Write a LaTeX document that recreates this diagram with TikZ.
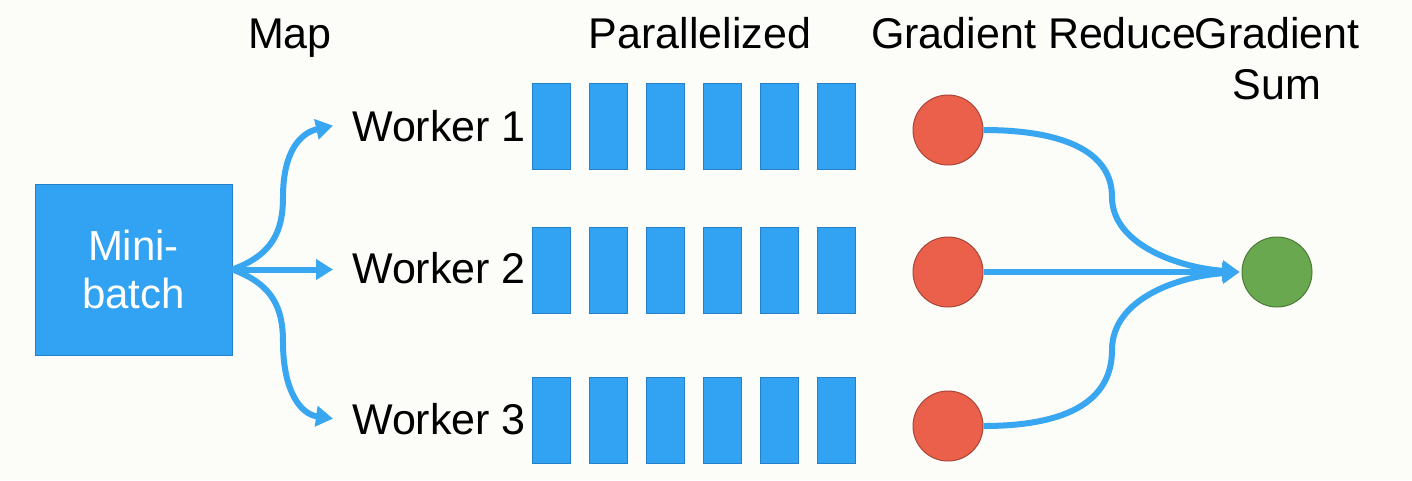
\documentclass[tikz,border=0pt]{standalone}
\usepackage{fontspec}
\setmainfont{Liberation Sans}
\usetikzlibrary{arrows.meta}
\definecolor{bg}{RGB}{252,252,249}
\definecolor{bblue}{RGB}{50,162,242}
\definecolor{bedge}{RGB}{38,128,200}
\definecolor{ablue}{RGB}{56,166,240}
\definecolor{rfill}{RGB}{234,96,74}
\definecolor{redge}{RGB}{168,70,56}
\definecolor{gfill}{RGB}{106,168,79}
\definecolor{gedge}{RGB}{74,124,54}
\tikzset{
  lbl/.style={font=\fontsize{43}{51}\selectfont, inner sep=0pt, text=black},
  barbox/.style={fill=bblue, draw=bedge, line width=0.8pt, minimum width=38pt, minimum height=86pt, inner sep=0pt, anchor=north west},
  mbbox/.style={fill=bblue, draw=bedge, line width=0.8pt, minimum width=197pt, minimum height=171pt, inner sep=0pt, text=white, align=center, font=\fontsize{42}{48}\selectfont},
  redc/.style={circle, fill=rfill, draw=redge, line width=1pt, minimum size=70pt, inner sep=0pt},
  greenc/.style={circle, fill=gfill, draw=gedge, line width=1pt, minimum size=70pt, inner sep=0pt},
  arr/.style={draw=ablue, line width=6pt, -{Triangle[length=17pt,width=20pt]}}
}
\begin{document}
\begin{tikzpicture}[x=1pt,y=-1pt]
\fill[bg] (0,0) rectangle (1412,480);
\useasboundingbox (0,0) rectangle (1412,480);

% top labels
\node[lbl, anchor=base] (tmap) at (290,48) {Map};
\node[lbl, anchor=base] (tpar) at (700,48) {Parallelized};
\node[lbl, anchor=base west] (tred) at (871,48) {Gradient Reduce};
\node[lbl, anchor=base, align=center] (tsum) at (1277,99) {Gradient\\Sum};

% mini-batch
\node[mbbox] (mb) at (133.5,269.5) {Mini-\\batch};

% workers
\node[lbl, anchor=base west] (w1) at (352,141) {Worker 1};
\node[lbl, anchor=base west] (w2) at (352,283) {Worker 2};
\node[lbl, anchor=base west] (w3) at (352,434) {Worker 3};

% bars
\foreach \r/\t in {1/83,2/227,3/377}{
  \foreach \i in {0,...,5}{
    \node[barbox] (b\r\i) at ({532+57*\i},\t) {};
  }
}

% circles
\node[redc] (r1) at (948,130) {};
\node[redc] (r2) at (948,272) {};
\node[redc] (r3) at (948,426) {};
\node[greenc] (g) at (1277,272) {};

% map arrows
\draw[arr] (mb.east) .. controls (272,255) and (283,232) .. (283,197) .. controls (283,152) and (300,133) .. ([xshift=-19pt]w1.west);
\draw[arr] (mb.east) -- ([xshift=-19pt]w2.west |- mb.east);
\draw[arr] (mb.east) .. controls (272,284) and (283,307) .. (283,342) .. controls (283,390) and (300,414) .. ([xshift=-19pt]w3.west);

% reduce arrows
\draw[arr, shorten >=2pt] (r1.east) .. controls (1060,130) and (1112,150) .. (1112,197) .. controls (1112,245) and (1180,268) .. (g.west);
\draw[arr, shorten >=2pt] (r2.east) -- (g.west);
\draw[arr, shorten >=2pt] (r3.east) .. controls (1060,426) and (1112,405) .. (1112,350) .. controls (1112,298) and (1180,276) .. (g.west);
\end{tikzpicture}
\end{document}
